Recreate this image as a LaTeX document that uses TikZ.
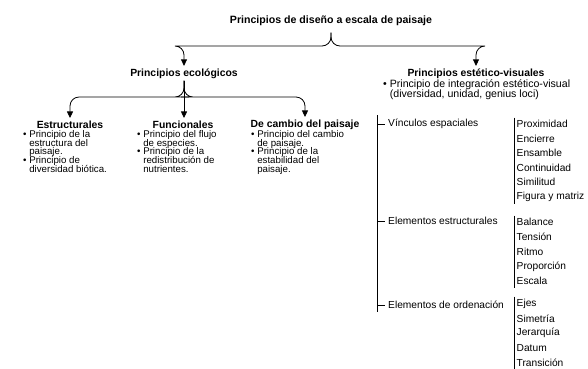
\documentclass[tikz,border=0pt]{standalone}
\usepackage{fontspec}
\setmainfont{Liberation Sans}
\usetikzlibrary{arrows.meta,positioning}

\newcommand{\bulitem}{\textbullet\ }
\newcommand{\bulgap}{\hphantom{\textbullet\ }}

\begin{document}
\begin{tikzpicture}[
        x=1pt, y=-1pt,
        head/.style={
            font=\bfseries\fontsize{10.4}{12}\selectfont,
            inner sep=1.5pt
        },
        bullets/.style={
            font={\fontsize{9.7}{8.6}\selectfont\lineskiplimit=-\maxdimen},
            align=left,
            anchor=north west,
            inner sep=0pt
        },
        entry/.style={
            font=\fontsize{10.2}{11}\selectfont,
            anchor=west,
            inner sep=2.5pt
        },
        link/.style={
            -{Triangle[length=6.5pt,width=6pt]},
            line width=0.8pt,
            rounded corners=9pt,
            shorten >=1.5pt
        },
        rule/.style={line width=0.8pt}
    ]
        \useasboundingbox (0,0) rectangle (588,368);

        % --- Titre ---
        \node[head, font=\bfseries\fontsize{10.6}{12}\selectfont] (title) at (331,21)
            {Principios de diseño a escala de paisaje};

        % --- Niveau 2 ---
        \node[head] (eco) at (184,74) {Principios ecológicos};
        \node[head] (est) at (476,74) {Principios estético-visuales};

        \draw[link] ([yshift=-5pt]title.south) |- (180,46) -| (eco.north);
        \draw[link] ([yshift=-5pt]title.south) |- (480,46) -| (est.north);

        % --- Principios ecológicos ---
        \node[head] (estr) at (70,125) {Estructurales};
        \node[head] (func) at (183,125) {Funcionales};
        \node[head] (camb) at (305,125) {De cambio del paisaje};

        \draw[link] (eco.south) |- (180,97) -| (estr.north);
        \draw[link] (eco.south) -- (eco.south |- func.north);
        \draw[link] (eco.south) |- (190,97) -| (camb.north);

        \node[bullets] (estrlist) at (23,130.5) {
            \bulitem Principio de la\\
            \bulgap estructura del\\
            \bulgap paisaje.\\
            \bulitem Principio de\\
            \bulgap diversidad biótica.
        };
        \node[bullets] (funclist) at (137,130.5) {
            \bulitem Principio del flujo\\
            \bulgap de especies.\\
            \bulitem Principio de la\\
            \bulgap redistribución de\\
            \bulgap nutrientes.
        };
        \node[bullets] (camblist) at (251,130.5) {
            \bulitem Principio del cambio\\
            \bulgap de paisaje.\\
            \bulitem Principio de la\\
            \bulgap estabilidad del\\
            \bulgap paisaje.
        };

        % --- Principios estético-visuales ---
        \node[bullets, font=\fontsize{10.6}{10}\selectfont] (estlist) at (383,79) {
            \bulitem Principio de integración estético-visual\\
            \bulgap (diversidad, unidad, genius loci)
        };

        \coordinate (trunk) at (377,115);
        \node[entry, inner sep=3pt] (g1) at (385,124) {Vínculos espaciales};
        \node[entry, inner sep=3pt] (g2) at (385,221) {Elementos estructurales};
        \node[entry, inner sep=3pt] (g3) at (385,305) {Elementos de ordenación};

        \draw[rule] (trunk) -- (trunk |- g3.south);
        \foreach \g in {g1,g2,g3} {
            \draw[rule] (trunk |- \g.west) -- (\g.west);
        }

        % listes
        \foreach \t [count=\i] in {Proximidad,Encierre,Ensamble,Continuidad,Similitud,Figura y matriz} {
            \node[entry] (a\i) at (514,{124+14.5*(\i-1)}) {\t};
        }
        \foreach \t [count=\i] in {Balance,Tensión,Ritmo,Proporción,Escala} {
            \node[entry] (b\i) at (514,{222+14.8*(\i-1)}) {\t};
        }
        \foreach \t [count=\i] in {Ejes,Simetría,Jerarquía,Datum,Transición} {
            \node[entry] (c\i) at (514,{304+14.6*(\i-1)}) {\t};
        }
        \draw[rule] (a1.north west) -- (a6.south west);
        \draw[rule] (b1.north west) -- (b5.south west);
        \draw[rule] (c1.north west) -- (c5.south west);
    \end{tikzpicture}
\end{document}
